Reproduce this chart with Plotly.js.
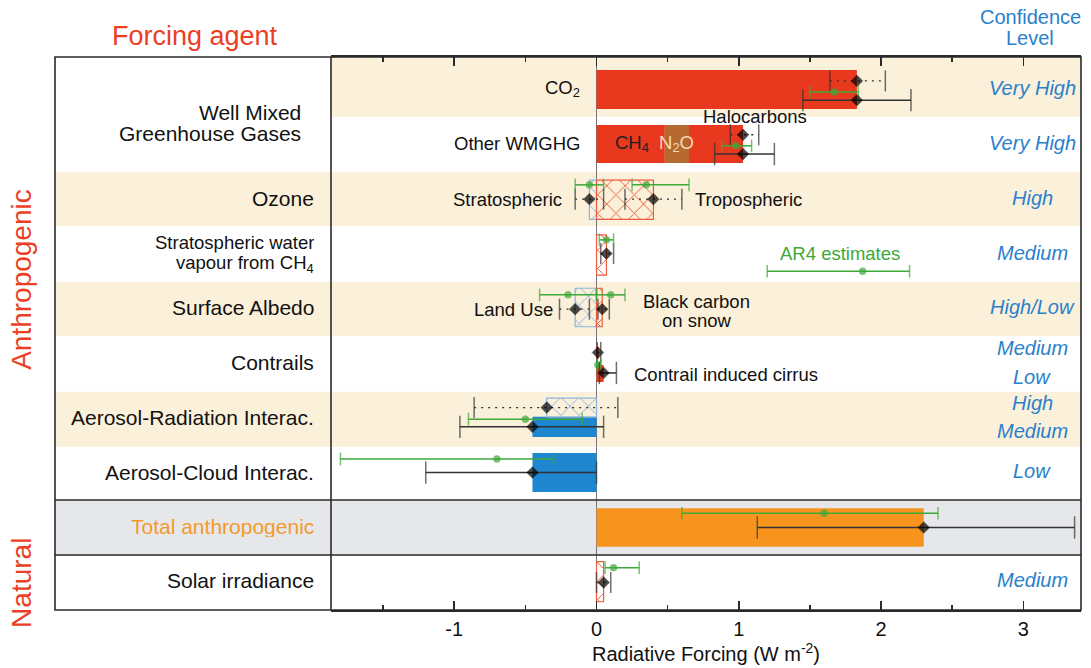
<!DOCTYPE html>
<html><head><meta charset="utf-8">
<script src="https://cdn.plot.ly/plotly-3.0.1.min.js"></script>
<style>html,body{margin:0;padding:0;background:#fff;} #chart{width:1091px;height:668px;}</style>
</head><body><div id="chart"></div>
<script>
// ================= DATA (W m-2) =================
// Forcing-agent labels (left column)
const rowLabels = ['Well Mixed', 'Greenhouse Gases', 'Ozone', 'Stratospheric water', 'vapour from CH<sub>4</sub>',
  'Surface Albedo', 'Contrails', 'Aerosol-Radiation Interac.', 'Aerosol-Cloud Interac.', 'Total anthropogenic', 'Solar irradiance'];
const confidenceLabels = ['Very High', 'Very High', 'High', 'Medium', 'High/Low', 'Medium', 'Low', 'High', 'Medium', 'Low', 'Medium'];

// Solid bars (effective radiative forcing)
const erfBarNames  = ['CO2', 'CH4', 'N2O', 'Halocarbons', 'Contrail induced cirrus', 'Aerosol-Radiation', 'Aerosol-Cloud', 'Total anthropogenic'];
const erfBarValues = [1.83, 0.48, 0.17, 0.38, 0.05, -0.45, -0.45, 2.30];
const wmghgParts   = ['CH4', 'N2O', 'Halocarbons'];

// Hatched bars (radiative forcing)
const rfBarNames  = ['Stratospheric ozone', 'Tropospheric ozone', 'Stratospheric water vapour', 'Land Use', 'Black carbon on snow', 'Contrails', 'Aerosol-Radiation RF', 'Solar irradiance'];
const rfBarValues = [-0.05, 0.40, 0.07, -0.15, 0.04, 0.01, -0.35, 0.05];

// Solid error bars (ERF best estimate and range)
const erfNames = ['CO2', 'Other WMGHG', 'Contrail induced cirrus', 'Aerosol-Radiation', 'Aerosol-Cloud', 'Total anthropogenic'];
const erfBest  = [1.83, 1.03, 0.05, -0.45, -0.45, 2.30];
const erfLow   = [1.45, 0.83, 0.02, -0.96, -1.20, 1.13];
const erfHigh  = [2.21, 1.25, 0.14, 0.05, 0.00, 3.36];

// Dotted error bars (RF best estimate and range)
const rfNames = ['CO2', 'Other WMGHG', 'Stratospheric ozone', 'Tropospheric ozone', 'Stratospheric water vapour', 'Land Use', 'Black carbon on snow', 'Contrails', 'Aerosol-Radiation RF', 'Solar irradiance'];
const rfBest  = [1.83, 1.03, -0.05, 0.40, 0.07, -0.15, 0.04, 0.01, -0.35, 0.05];
const rfLow   = [1.64, 0.94, -0.15, 0.20, 0.03, -0.26, 0.01, 0.005, -0.86, 0.00];
const rfHigh  = [2.03, 1.14, 0.05, 0.60, 0.12, -0.05, 0.09, 0.03, 0.15, 0.10];

// AR4 estimates (green)
const ar4Names = ['CO2', 'Other WMGHG', 'Stratospheric ozone', 'Tropospheric ozone', 'Stratospheric water vapour', 'Land Use', 'Black carbon on snow', 'Contrails', 'Aerosol-Radiation', 'Aerosol-Cloud', 'Total anthropogenic', 'Solar irradiance'];
const ar4Best  = [1.67, 0.98, -0.05, 0.35, 0.07, -0.20, 0.10, 0.01, -0.50, -0.70, 1.60, 0.12];
const ar4Low   = [1.50, 0.88, -0.15, 0.25, 0.02, -0.40, 0.00, 0.003, -0.90, -1.80, 0.60, 0.06];
const ar4High  = [1.84, 1.09, 0.05, 0.65, 0.12, 0.00, 0.20, 0.03, -0.10, -0.30, 2.40, 0.30];

// AR4 legend sample
const ar4Sample = {best: 1.87, low: 1.20, high: 2.20};

// ================= LAYOUT / STYLE =================
const FONT = 'Liberation Sans, Arial, Helvetica, sans-serif';
const RED = '#E8391F', BROWN = '#B5692F', BLUE = '#1F86D0', ORANGE = '#F7941E';
const HATCH_RED = '#EE5B3E', HATCH_BLUE = '#8DB4DD', GREEN = '#3EA83A', INK = '#2a2a2a';
const BEIGE = '#FBF0D9', GREY = '#E6E7EA', CONF = '#2A80CC', TITLE_RED = '#EA3F25';

// vertical positions in row units (row k spans k..k+1 from the top)
const erfBarPos = {'CO2':[0.535,0.71], 'CH4':[1.527,0.69], 'N2O':[1.527,0.69], 'Halocarbons':[1.527,0.69],
  'Contrail induced cirrus':[5.70,0.31], 'Aerosol-Radiation':[6.67,0.365], 'Aerosol-Cloud':[7.50,0.71], 'Total anthropogenic':[8.50,0.70]};
const erfBarColor = {'CO2':RED, 'CH4':RED, 'N2O':BROWN, 'Halocarbons':RED, 'Contrail induced cirrus':RED,
  'Aerosol-Radiation':BLUE, 'Aerosol-Cloud':BLUE, 'Total anthropogenic':ORANGE};
const rfBarPos = {'Stratospheric ozone':[2.54,0.715], 'Tropospheric ozone':[2.54,0.715], 'Stratospheric water vapour':[3.545,0.73],
  'Land Use':[4.50,0.70], 'Black carbon on snow':[4.50,0.70], 'Contrails':[5.32,0.2], 'Aerosol-Radiation RF':[6.32,0.345], 'Solar irradiance':[9.485,0.73]};
const erfErrY = {'CO2':0.73, 'Other WMGHG':1.71, 'Contrail induced cirrus':5.69, 'Aerosol-Radiation':6.67, 'Aerosol-Cloud':7.50, 'Total anthropogenic':8.50};
const rfErrY = {'CO2':0.38, 'Other WMGHG':1.36, 'Stratospheric ozone':2.53, 'Tropospheric ozone':2.53, 'Stratospheric water vapour':3.52,
  'Land Use':4.53, 'Black carbon on snow':4.53, 'Contrails':5.32, 'Aerosol-Radiation RF':6.32, 'Solar irradiance':9.50};
const ar4ErrY = {'CO2':0.58, 'Other WMGHG':1.56, 'Stratospheric ozone':2.27, 'Tropospheric ozone':2.27, 'Stratospheric water vapour':3.27,
  'Land Use':4.27, 'Black carbon on snow':4.27, 'Contrails':5.545, 'Aerosol-Radiation':6.53, 'Aerosol-Cloud':7.255, 'Total anthropogenic':8.24, 'Solar irradiance':9.23};
const rowLabelY = [0.945, 1.327, 2.515, 3.336, 3.71, 4.497, 5.497, 6.497, 7.497, 8.47, 9.45];
const rowLabelX = [-0.037, -0.037, -0.02, -0.02, -0.02, -0.02, -0.02, -0.02, -0.02, -0.02, -0.02];
const rowLabelSize = [21, 21, 21, 18.5, 18.5, 21, 21, 21, 21, 21, 21];
const confY = [0.515, 1.515, 2.515, 3.515, 4.497, 5.24, 5.76, 6.23, 6.74, 7.47, 9.45];

const traces = [];
// solid bars
let wmghgBase = 0;
erfBarNames.forEach((n, i) => {
  let base = 0;
  if (wmghgParts.includes(n)) { base = wmghgBase; wmghgBase += erfBarValues[i]; }
  traces.push({type:'bar', orientation:'h', y:[erfBarPos[n][0]], x:[erfBarValues[i]], base:[base], width:[erfBarPos[n][1]],
    marker:{color:erfBarColor[n], line:{width:0}}, hoverinfo:'skip', name:n});
});
// hatched bars
rfBarNames.forEach((n, i) => {
  const c = rfBarValues[i] < 0 ? HATCH_BLUE : HATCH_RED;
  traces.push({type:'bar', orientation:'h', y:[rfBarPos[n][0]], x:[rfBarValues[i]], base:[0], width:[rfBarPos[n][1]],
    marker:{color:'rgba(0,0,0,0)', line:{color:c, width:1.2}, pattern:{shape:'x', fgcolor:c, bgcolor:'rgba(0,0,0,0)', size:13, solidity:0.14}},
    hoverinfo:'skip', name:n});
});
function errTrace(lo, best, hi, y, st) {
  return {type:'scatter', mode:'lines+markers', x:[lo, best, hi], y:[y, y, y], cliponaxis:false, hoverinfo:'skip',
    line:{color:st.color, width:st.width, dash:st.dash},
    marker:{symbol:['line-ns', st.sym, 'line-ns'], size:[st.cap, st.ms, st.cap], color:st.dot,
      line:{color:[st.color, st.dot, st.color], width:[1.5, 0.5, 1.5]}}};
}
const dotted = {color:'#333', dot:'#000', width:1.4, dash:'2px,5px', sym:'diamond', cap:15, ms:9};
const solid  = {color:'#333', dot:'#000', width:1.5, dash:'solid', sym:'diamond', cap:16, ms:9};
const green  = {color:GREEN, dot:GREEN, width:1.5, dash:'solid', sym:'circle', cap:9, ms:7};
rfNames.forEach((n, i) => traces.push(errTrace(rfLow[i], rfBest[i], rfHigh[i], rfErrY[n], dotted)));
ar4Names.forEach((n, i) => traces.push(errTrace(ar4Low[i], ar4Best[i], ar4High[i], ar4ErrY[n], green)));
erfNames.forEach((n, i) => traces.push(errTrace(erfLow[i], erfBest[i], erfHigh[i], erfErrY[n], solid)));
// AR4 legend sample
traces.push(errTrace(ar4Sample.low, ar4Sample.best, ar4Sample.high, 3.84, green));

// ---- shapes ----
const LEFT = -0.368;
const shapes = [];
[[-0.06,1.03],[2.03,3.02],[4.03,5.02],[6.03,7.03]].forEach(b => shapes.push({type:'rect', xref:'paper', yref:'y', x0:0, x1:1, y0:b[0], y1:b[1], fillcolor:BEIGE, line:{width:0}, layer:'below'}));
[[2.03,3.02],[4.03,5.02],[6.03,7.03]].forEach(b => shapes.push({type:'rect', xref:'paper', yref:'y', x0:LEFT, x1:0, y0:b[0], y1:b[1], fillcolor:BEIGE, line:{width:0}, layer:'below'}));
shapes.push({type:'rect', xref:'paper', yref:'y', x0:LEFT, x1:1, y0:8, y1:9, fillcolor:GREY, line:{width:0}, layer:'below'});
shapes.push({type:'rect', xref:'paper', yref:'paper', x0:LEFT, x1:1, y0:0, y1:1, line:{color:INK, width:1.6}, layer:'above'});
shapes.push({type:'line', xref:'paper', yref:'paper', x0:0, x1:0, y0:0, y1:1, line:{color:INK, width:1.6}, layer:'above'});
[8, 9].forEach(v => shapes.push({type:'line', xref:'paper', yref:'y', x0:LEFT, x1:1, y0:v, y1:v, line:{color:INK, width:1.6}, layer:'above'}));

// ---- annotations ----
const ann = [];
rowLabels.forEach((t, i) => ann.push({xref:'paper', yref:'y', x:rowLabelX[i], y:rowLabelY[i], text:t, showarrow:false, xanchor:'right', yanchor:'middle',
  height: rowLabelSize[i] + 1,
  font:{family:FONT, size:rowLabelSize[i], color: t === 'Total anthropogenic' ? '#F39A2B' : '#111'}}));
confidenceLabels.forEach((t, i) => ann.push({xref:'paper', yref:'y', x:0.935, y:confY[i], text:'<i>' + t + '</i>', showarrow:false, xanchor:'center', yanchor:'middle',
  height: 22, font:{family:FONT, size:20, color:CONF}}));
const inPlot = [
  ['CO<sub>2</sub>', -0.102, 0.527, 'right', '#111'],
  ['Other WMGHG', -0.102, 1.527, 'right', '#111'],
  ['CH<sub>4</sub>', 0.247, 1.527, 'center', '#222'],
  ['N<sub>2</sub>O', 0.563, 1.527, 'center', '#F3D8B8'],
  ['Halocarbons', 1.114, 1.03, 'center', '#111'],
  ['Stratospheric', -0.226, 2.53, 'right', '#111'],
  ['Tropospheric', 0.678, 2.53, 'left', '#111'],
  ['Land Use', -0.292, 4.53, 'right', '#111'],
  ['Black carbon', 0.706, 4.39, 'center', '#111'],
  ['on snow', 0.706, 4.74, 'center', '#111'],
  ['Contrail induced cirrus', 0.249, 5.71, 'left', '#111'],
  ['AR4 estimates', 1.711, 3.51, 'center', GREEN]
];
inPlot.forEach(a => ann.push({xref:'x', yref:'y', x:a[1], y:a[2], text:a[0], showarrow:false, xanchor:a[3], yanchor:'middle',
  height:19, font:{family:FONT, size:18.5, color:a[4]}}));
ann.push({xref:'paper', yref:'paper', x:-0.182, y:1.038, text:'Forcing agent', showarrow:false, xanchor:'center', yanchor:'middle', font:{family:FONT, size:27, color:TITLE_RED}});
ann.push({xref:'paper', yref:'paper', x:0.932, y:1.072, text:'Confidence', showarrow:false, xanchor:'center', yanchor:'middle', height:20, font:{family:FONT, size:20, color:CONF}});
ann.push({xref:'paper', yref:'paper', x:0.932, y:1.034, text:'Level', showarrow:false, xanchor:'center', yanchor:'middle', height:20, font:{family:FONT, size:20, color:CONF}});
ann.push({xref:'paper', yref:'paper', x:-0.412, y:0.597, text:'Anthropogenic', textangle:-90, showarrow:false, xanchor:'center', yanchor:'middle', font:{family:FONT, size:28, color:TITLE_RED}});
ann.push({xref:'paper', yref:'paper', x:-0.412, y:0.049, text:'Natural', textangle:-90, showarrow:false, xanchor:'center', yanchor:'middle', font:{family:FONT, size:28, color:TITLE_RED}});

const layout = {
  width:1091, height:668, margin:{l:331, r:10, t:57, b:58}, paper_bgcolor:'#fff', plot_bgcolor:'#fff',
  barmode:'overlay', showlegend:false, font:{family:FONT, color:'#111'},
  xaxis:{range:[-1.866, 3.405], tickvals:[-1,0,1,2,3], ticktext:['-1','0','1','2','3'], ticks:'inside', ticklen:9, tickwidth:1.5, tickcolor:INK,
    showline:true, linecolor:INK, linewidth:1.6, mirror:'ticks', showgrid:false, zeroline:true, zerolinecolor:'#777', zerolinewidth:1.5,
    minor:{tickvals:[-1.5,-0.5,0.5,1.5,2.5], ticks:'inside', ticklen:5, tickwidth:1.5, tickcolor:INK},
    tickfont:{family:FONT, size:20, color:'#111'}, title:{text:'Radiative Forcing (W m<sup>-2</sup>)', font:{family:FONT, size:20, color:'#111'}, standoff:4},
    fixedrange:true},
  yaxis:{range:[10, -0.0545], visible:false, fixedrange:true},
  shapes:shapes, annotations:ann
};
Plotly.newPlot('chart', traces, layout, {displayModeBar:false, staticPlot:true});
</script>
</body></html>
